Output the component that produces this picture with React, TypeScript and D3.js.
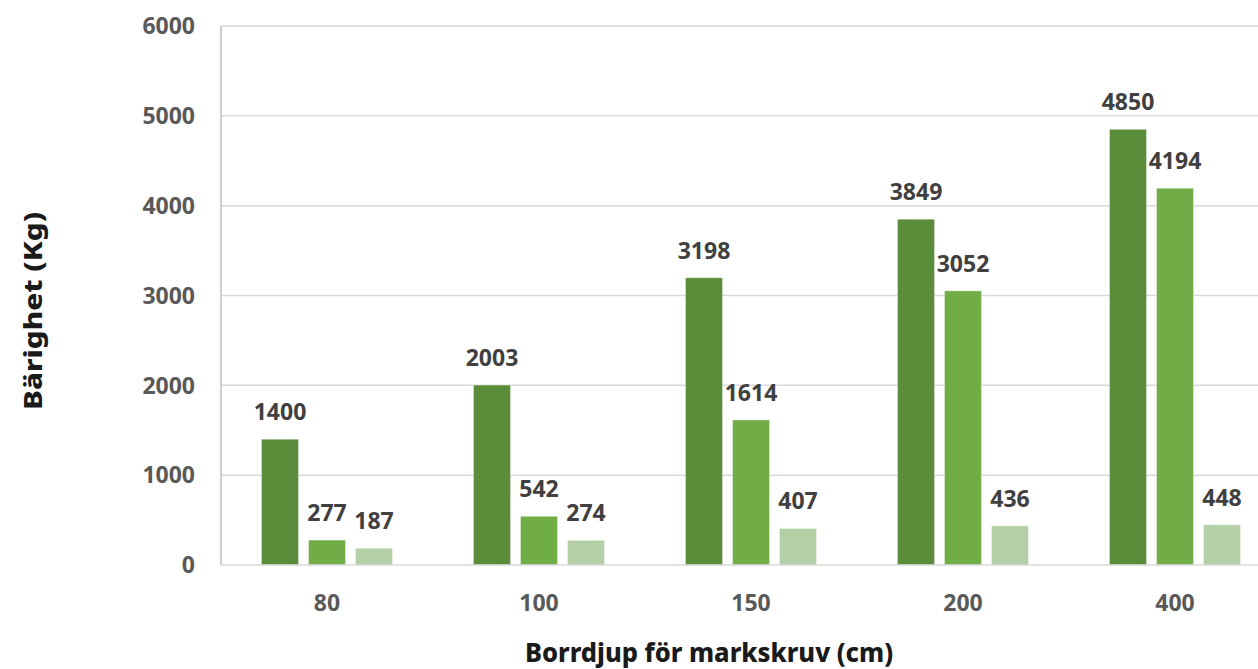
import React from "react";
import * as d3 from "d3";

const categories = ["80", "100", "150", "200", "400"];
const seriesNames = ["S1", "S2", "S3"];
const series1 = [1400, 2003, 3198, 3849, 4850];
const series2 = [277, 542, 1614, 3052, 4194];
const series3 = [187, 274, 407, 436, 448];
const yTicks = [0, 1000, 2000, 3000, 4000, 5000, 6000];
const colors = ["#5b8c3a", "#70ad47", "#b4cfa5"];

const W = 1258;
const H = 669;
const left = 221;
const right = 1281;
const top = 26;
const bottom = 565;

export default function App() {
  const seriesValues = [series1, series2, series3];
  const x = d3.scaleBand().domain(categories).range([left, right]).paddingInner(0).paddingOuter(0);
  const inner = d3
    .scaleBand()
    .domain(seriesNames)
    .range([0, x.bandwidth()])
    .paddingInner(0.213)
    .paddingOuter(0.862);
  const y = d3.scaleLinear().domain([0, 6000]).range([bottom, top]);
  const font = "'Open Sans', 'DejaVu Sans', sans-serif";

  return (
    <div style={{ position: "fixed", left: 0, top: 0, width: W, height: H, overflow: "hidden", background: "#fff" }}>
      <svg width={W} height={H} style={{ display: "block" }}>
        <rect width={W} height={H} fill="#fff" />
        {yTicks.map((t) => (
          <g key={t}>
            {t > 0 && (
              <line x1={left} x2={right} y1={y(t)} y2={y(t)} stroke="#d9d9d9" strokeWidth={1.5} />
            )}
            <text
              x={195}
              y={y(t)}
              dy="0.36em"
              textAnchor="end"
              fontFamily={font}
              fontWeight={700}
              fontSize={23}
              fill="#595959"
            >
              {t}
            </text>
          </g>
        ))}
        <line x1={left} x2={left} y1={top} y2={bottom} stroke="#bfbfbf" strokeWidth={1.5} />
        {categories.map((c, ci) => (
          <g key={c}>
            {seriesValues.map((vals, si) => {
              const bx = (x(c) as number) + (inner(seriesNames[si]) as number);
              const bw = inner.bandwidth();
              const v = vals[ci];
              return (
                <g key={si}>
                  <rect
                    x={bx}
                    y={y(v)}
                    width={bw}
                    height={bottom - y(v)}
                    fill={colors[si]}
                    stroke="#ffffff"
                    strokeOpacity={0.35}
                    strokeWidth={1}
                  />
                  <text
                    x={bx + bw / 2}
                    y={y(v) - 19}
                    textAnchor="middle"
                    fontFamily={font}
                    fontWeight={700}
                    fontSize={23}
                    fill="#404040"
                  >
                    {v}
                  </text>
                </g>
              );
            })}
            <text
              x={(x(c) as number) + x.bandwidth() / 2}
              y={611}
              textAnchor="middle"
              fontFamily={font}
              fontWeight={700}
              fontSize={23}
              fill="#595959"
            >
              {c}
            </text>
          </g>
        ))}
        <line x1={left} x2={right} y1={bottom} y2={bottom} stroke="#d9d9d9" strokeWidth={1.5} />
        <text
          x={709}
          y={662}
          textAnchor="middle"
          fontFamily="'Noto Sans', sans-serif"
          fontWeight={800}
          fontSize={27}
          fill="#1a1a1a"
          textLength={368}
          lengthAdjust="spacingAndGlyphs"
        >
          Borrdjup för markskruv (cm)
        </text>
        <text
          transform={`translate(42,311) rotate(-90)`}
          textAnchor="middle"
          fontFamily="'Noto Sans', sans-serif"
          fontWeight={800}
          fontSize={25}
          fill="#1a1a1a"
          textLength={198}
          lengthAdjust="spacingAndGlyphs"
        >
          Bärighet (Kg)
        </text>
      </svg>
    </div>
  );
}
